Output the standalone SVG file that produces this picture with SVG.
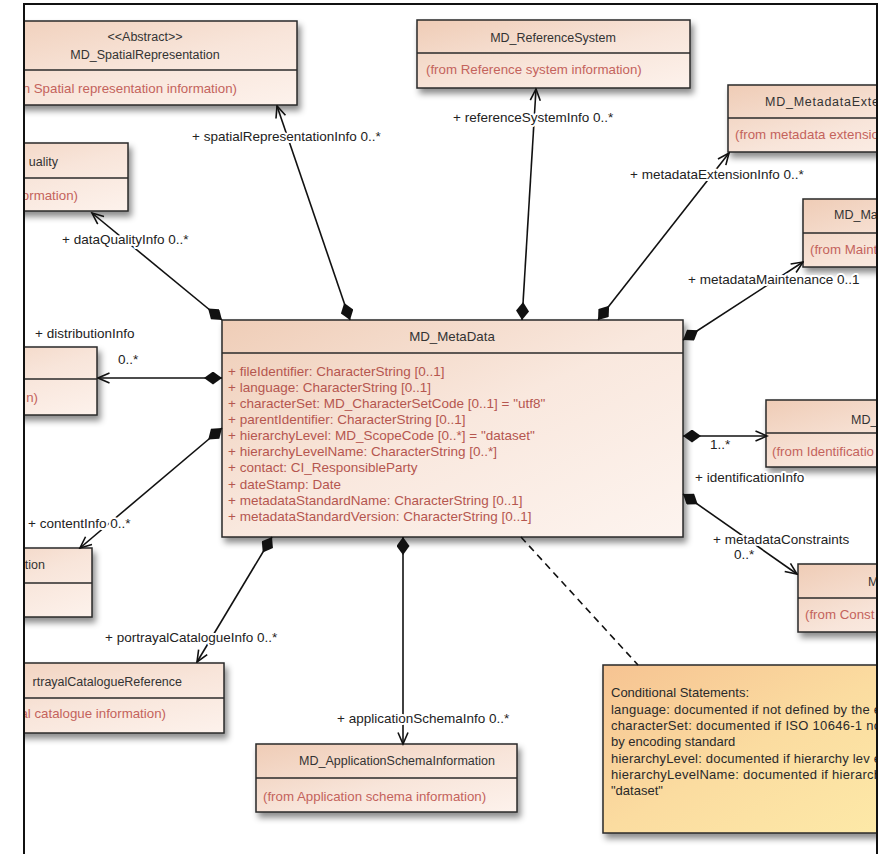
<svg xmlns="http://www.w3.org/2000/svg" width="884" height="854" viewBox="0 0 884 854">
<defs>
<linearGradient id="cls" x1="0" y1="0" x2="1" y2="1"><stop offset="0" stop-color="#efccb6"/><stop offset="0.55" stop-color="#f8e5da"/><stop offset="1" stop-color="#fdf2ec"/></linearGradient>
<linearGradient id="mainfill" x1="0" y1="0" x2="1" y2="1"><stop offset="0" stop-color="#efcdb7"/><stop offset="0.5" stop-color="#f9e8de"/><stop offset="1" stop-color="#fdf4ef"/></linearGradient>
<linearGradient id="notefill" x1="0" y1="0" x2="1" y2="1"><stop offset="0" stop-color="#f6c392"/><stop offset="0.5" stop-color="#fbdca0"/><stop offset="1" stop-color="#fdeaa8"/></linearGradient>
<filter id="sh" x="-10%" y="-10%" width="130%" height="140%"><feDropShadow dx="3" dy="5" stdDeviation="3" flood-color="#000" flood-opacity="0.45"/></filter>
<marker id="dia" markerUnits="userSpaceOnUse" markerWidth="18" markerHeight="13" refX="0" refY="6.5" orient="auto" viewBox="0 0 18 13"><path d="M0,6.5 L9,0 L18,6.5 L9,13 Z" fill="#111"/></marker>
<marker id="arr" markerUnits="userSpaceOnUse" markerWidth="14" markerHeight="12" refX="12.5" refY="6" orient="auto" viewBox="0 0 14 12"><path d="M1,1 L12.5,6 L1,11" fill="none" stroke="#111" stroke-width="1.6"/></marker>
<clipPath id="frame"><rect x="24" y="4" width="853" height="850"/></clipPath>
<style>
.box{stroke:#2a2a2a;stroke-width:1.5;fill:url(#cls);filter:url(#sh)}
.dv{stroke:#2a2a2a;stroke-width:1.5}
.t{font-family:"Liberation Sans",Arial,sans-serif;font-size:12.5px;fill:#333;text-anchor:middle}
.ts{font-family:"Liberation Sans",Arial,sans-serif;font-size:12.5px;fill:#333}
.s{font-family:"Liberation Sans",Arial,sans-serif;font-size:13.3px;fill:#c4635c}
.a{font-family:"Liberation Sans",Arial,sans-serif;font-size:13.5px;fill:#b5564f}
.n{font-family:"Liberation Sans",Arial,sans-serif;font-size:13px;fill:#2a2a2a}
.l{font-family:"Liberation Sans",Arial,sans-serif;font-size:13.5px;fill:#222;stroke:#fff;stroke-width:4;paint-order:stroke;stroke-linejoin:round}
.c{stroke:#111;stroke-width:1.6;fill:none;marker-start:url(#dia);marker-end:url(#arr)}
.e{text-anchor:end}
</style>
</defs>
<rect width="884" height="854" fill="#fff"/>
<g clip-path="url(#frame)">
<g id="n-spatial">
<rect class="box" x="-60" y="21" width="357" height="84"/>
<line class="dv" x1="-60" y1="70" x2="297" y2="70"/>
<text class="t" x="145" y="41">&lt;&lt;Abstract&gt;&gt;</text>
<text class="t" x="145" y="59">MD_SpatialRepresentation</text>
<text class="s e" x="237" y="93">n Spatial representation information)</text>
</g>
<g id="n-reference">
<rect class="box" x="417" y="20" width="273" height="68"/>
<line class="dv" x1="417" y1="53" x2="690" y2="53"/>
<text class="t" x="553" y="42">MD_ReferenceSystem</text>
<text class="s" x="426" y="74">(from Reference system information)</text>
</g>
<g id="n-extension">
<rect class="box" x="728" y="85" width="250" height="67"/>
<line class="dv" x1="728" y1="118" x2="978" y2="118"/>
<text class="ts" x="765" y="106" textLength="114">MD_MetadataExte</text>
<text class="s" x="735" y="139" textLength="144">(from metadata extensio</text>
</g>
<g id="n-maintenance">
<rect class="box" x="803" y="199" width="200" height="68"/>
<line class="dv" x1="803" y1="233" x2="1003" y2="233"/>
<text class="ts" x="834" y="219">MD_Ma</text>
<text class="s" x="810" y="254">(from Maint</text>
</g>
<g id="n-dataquality">
<rect class="box" x="-110" y="143" width="238" height="68"/>
<line class="dv" x1="-110" y1="178" x2="128" y2="178"/>
<text class="ts e" x="58" y="166">uality</text>
<text class="s e" x="78" y="200">ormation)</text>
</g>
<g id="n-distribution">
<rect class="box" x="-120" y="347" width="217" height="68"/>
<line class="dv" x1="-120" y1="379" x2="97" y2="379"/>
<text class="s e" x="38" y="402">n)</text>
</g>
<g id="n-content">
<rect class="box" x="-100" y="548" width="192" height="69"/>
<line class="dv" x1="-100" y1="583" x2="92" y2="583"/>
<text class="ts e" x="45" y="569">tion</text>
</g>
<g id="n-portrayal">
<rect class="box" x="-80" y="663" width="304" height="70"/>
<line class="dv" x1="-80" y1="698" x2="224" y2="698"/>
<text class="ts e" x="182" y="686">rtrayalCatalogueReference</text>
<text class="s e" x="166" y="718">al catalogue information)</text>
</g>
<g id="n-appschema">
<rect class="box" x="256" y="744" width="261" height="68"/>
<line class="dv" x1="256" y1="778" x2="517" y2="778"/>
<text class="t" x="397" y="765">MD_ApplicationSchemaInformation</text>
<text class="s" x="263" y="801">(from Application schema information)</text>
</g>
<g id="n-identification">
<rect class="box" x="766" y="400" width="220" height="67"/>
<line class="dv" x1="766" y1="433" x2="986" y2="433"/>
<text class="ts" x="851" y="424">MD_</text>
<text class="s" x="772" y="456">(from Identificatio</text>
</g>
<g id="n-constraints">
<rect class="box" x="798" y="564" width="200" height="68"/>
<line class="dv" x1="798" y1="598" x2="998" y2="598"/>
<text class="ts" x="868" y="586">M</text>
<text class="s" x="805" y="619">(from Const</text>
</g>
<g id="n-metadata">
<rect class="box" x="222" y="320" width="461" height="217" style="fill:url(#mainfill)"/>
<line class="dv" x1="222" y1="353" x2="683" y2="353"/>
<text class="t" x="452" y="341" style="font-size:13.3px">MD_MetaData</text>
<text class="a" x="228" y="376">+ fileIdentifier: CharacterString [0..1]</text>
<text class="a" x="228" y="392">+ language: CharacterString [0..1]</text>
<text class="a" x="228" y="408">+ characterSet: MD_CharacterSetCode [0..1] = "utf8"</text>
<text class="a" x="228" y="424">+ parentIdentifier: CharacterString [0..1]</text>
<text class="a" x="228" y="440">+ hierarchyLevel: MD_ScopeCode [0..*] = "dataset"</text>
<text class="a" x="228" y="456">+ hierarchyLevelName: CharacterString [0..*]</text>
<text class="a" x="228" y="472">+ contact: CI_ResponsibleParty</text>
<text class="a" x="228" y="489">+ dateStamp: Date</text>
<text class="a" x="228" y="505">+ metadataStandardName: CharacterString [0..1]</text>
<text class="a" x="228" y="521">+ metadataStandardVersion: CharacterString [0..1]</text>
</g>
<g id="n-note">
<rect x="603" y="665" width="300" height="168" fill="url(#notefill)" stroke="#2a2a2a" stroke-width="1.5" filter="url(#sh)"/>
<text class="n" x="611" y="697">Conditional Statements:</text>
<text class="n" x="611" y="714" textLength="270">language: documented if not defined by the e</text>
<text class="n" x="611" y="730" textLength="270">characterSet: documented if ISO 10646-1 no</text>
<text class="n" x="611" y="746">by encoding standard</text>
<text class="n" x="611" y="763" textLength="270">hierarchyLevel: documented if hierarchy lev e</text>
<text class="n" x="611" y="779" textLength="270">hierarchyLevelName: documented if hierarch</text>
<text class="n" x="611" y="795">"dataset"</text>
</g>
<g id="connectors">
<path class="c" d="M350,320 L277,106"/>
<path class="c" d="M522,320 L536,89"/>
<path class="c" d="M598,320 L729,153"/>
<path class="c" d="M683,340 L803,262"/>
<path class="c" d="M222,320 L92,213"/>
<path class="c" d="M222,378 L98,378"/>
<path class="c" d="M222,428 L80,548"/>
<path class="c" d="M272,537 L197,662"/>
<path class="c" d="M403,537 L403,744"/>
<path class="c" d="M683,436 L767,436"/>
<path class="c" d="M683,494 L797,574"/>
<path d="M521,537 L638,665" fill="none" stroke="#111" stroke-width="1.6" stroke-dasharray="7,5"/>
</g>
<g id="connector-labels">
<text class="l" x="192" y="141">+ spatialRepresentationInfo 0..*</text>
<text class="l" x="453" y="122">+ referenceSystemInfo 0..*</text>
<text class="l" x="630" y="179">+ metadataExtensionInfo 0..*</text>
<text class="l" x="688" y="284">+ metadataMaintenance 0..1</text>
<text class="l" x="62" y="244">+ dataQualityInfo 0..*</text>
<text class="l" x="35" y="338">+ distributionInfo</text>
<text class="l" x="118" y="364">0..*</text>
<text class="l" x="28" y="528">+ contentInfo 0..*</text>
<text class="l" x="105" y="642">+ portrayalCatalogueInfo 0..*</text>
<text class="l" x="337" y="723">+ applicationSchemaInfo 0..*</text>
<text class="l" x="710" y="449">1..*</text>
<text class="l" x="695" y="482">+ identificationInfo</text>
<text class="l" x="713" y="544">+ metadataConstraints</text>
<text class="l" x="734" y="559">0..*</text>
</g>
</g>
<g id="frame-lines" fill="none" stroke="#111" stroke-width="2">
<path d="M24,854 L24,4 L877,4 L877,854"/>
</g>
</svg>
